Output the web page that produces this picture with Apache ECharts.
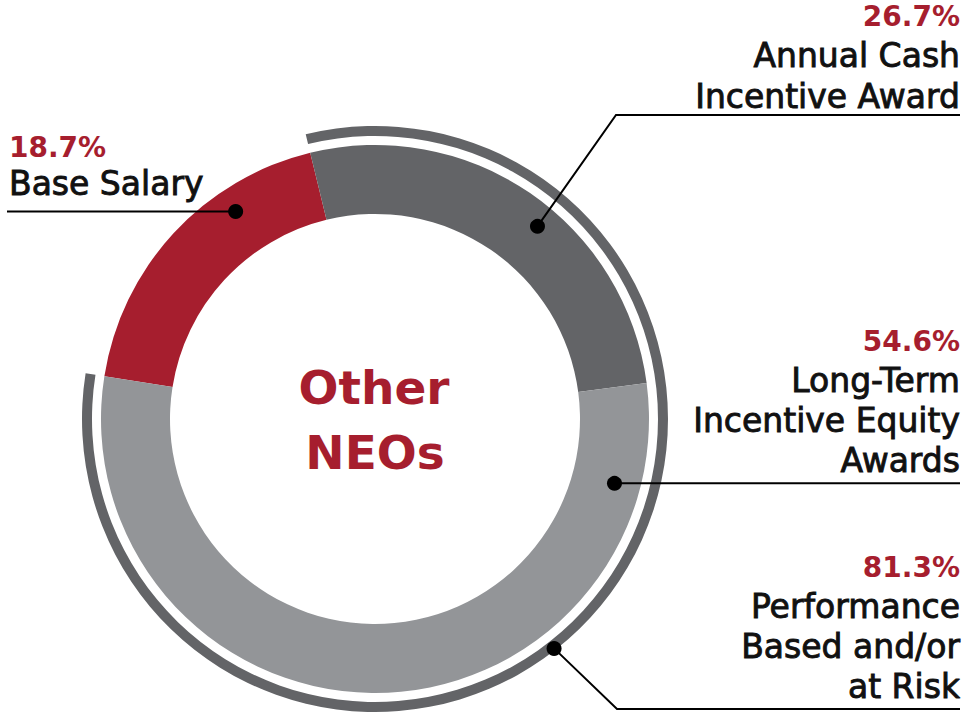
<!DOCTYPE html>
<html>
<head>
<meta charset="utf-8">
<script src="https://cdn.jsdelivr.net/npm/echarts@6/dist/echarts.min.js"></script>
<style>
html,body{margin:0;padding:0;background:#fff;}
#chart{width:979px;height:718px;}
</style>
</head>
<body>
<div id="chart"></div>
<script>
// ---- data ----
const categories = ['Base Salary', 'Annual Cash Incentive Award', 'Long-Term Incentive Equity Awards'];
const values = [18.7, 26.7, 54.6];
const atRiskName = 'Performance Based and/or at Risk';
const atRiskValue = 81.3;
const notAtRiskValue = 18.7;
const centerTitle = ['Other', 'NEOs'];
const labelLines = [
  ['Base Salary'],
  ['Annual Cash', 'Incentive Award'],
  ['Long-Term', 'Incentive Equity', 'Awards'],
  ['Performance', 'Based and/or', 'at Risk']
];
const labelValues = [18.7, 26.7, 54.6, 81.3];

// ---- style / layout ----
const colors = ['#A61E2E', '#636467', '#939598'];
const arcColor = '#636467';
const red = '#A61E2E';
const cx = 375, cy = 419;
const startAngle = 171;
const ringR = [205, 274];
const arcR = [283, 293];
const FONT = "'DejaVu Sans', sans-serif";

const chart = echarts.init(document.getElementById('chart'), null, {renderer: 'svg'});

function polar(r, deg) {
  const a = deg * Math.PI / 180;
  return [cx + r * Math.cos(a), cy - r * Math.sin(a)];
}
const total = values.reduce((a, b) => a + b, 0);
function angleAt(cumValue) { return startAngle - 360 * cumValue / total; }

// dot anchors: fraction inside each segment, radius
const cum = [0, values[0], values[0] + values[1]];
const dots = [
  polar(250, angleAt(cum[0] + 0.70 * values[0])),
  polar(252, angleAt(cum[1] + 0.56 * values[1])),
  polar(248, angleAt(cum[2] + 0.115 * values[2])),
  polar(291, angleAt(notAtRiskValue + 0.532 * atRiskValue))
];

const rightX = 960;
const blocks = [
  {x: 9, align: 'left', base: 158, step: 37, line: [[dots[0][0], dots[0][1]], [7, dots[0][1]]]},
  {x: rightX, align: 'right', base: 27, step: 40.5, line: [dots[1], [616, 115], [rightX, 115]]},
  {x: rightX, align: 'right', base: 352, step: 40, line: [dots[2], [rightX, dots[2][1]]]},
  {x: rightX, align: 'right', base: 578, step: 40, line: [dots[3], [617, 709], [rightX, 709]]}
];

const graphic = [];
blocks.forEach((b, i) => {
  const pfs = 28, fs = 33;
  graphic.push({
    type: 'text', x: b.x, y: b.base - 0.36 * pfs, z: 10,
    style: {text: labelValues[i].toFixed(1) + '%', font: 'bold ' + pfs + 'px ' + FONT,
      fill: red, align: b.align, verticalAlign: 'middle'}
  });
  labelLines[i].forEach((t, j) => {
    graphic.push({
      type: 'text', x: b.x, y: b.base + (j + 1) * b.step - 0.36 * fs, z: 10,
      style: {text: t, font: fs + 'px ' + FONT, fill: '#111',
        stroke: '#111', lineWidth: 0.9, align: b.align, verticalAlign: 'middle'}
    });
  });
  graphic.push({
    type: 'polyline', z: 10,
    shape: {points: b.line},
    style: {stroke: '#000', lineWidth: 2, fill: null}
  });
  graphic.push({
    type: 'circle', z: 11,
    shape: {cx: dots[i][0], cy: dots[i][1], r: 7.5},
    style: {fill: '#000'}
  });
});
// center title
graphic.push({
  type: 'text', x: cx - 1, y: 404 - 0.36 * 47, z: 10,
  style: {text: centerTitle[0], font: 'bold 47px ' + FONT, fill: red, align: 'center', verticalAlign: 'middle'}
});
graphic.push({
  type: 'text', x: cx, y: 469 - 0.36 * 47, z: 10,
  style: {text: centerTitle[1], font: 'bold 47px ' + FONT, fill: red, align: 'center', verticalAlign: 'middle'}
});

const option = {
  backgroundColor: '#fff',
  animation: false,
  series: [
    {
      type: 'pie', center: [cx, cy], radius: ringR, startAngle: startAngle,
      clockwise: true, silent: true, avoidLabelOverlap: false,
      label: {show: false}, labelLine: {show: false},
      itemStyle: {borderWidth: 0},
      data: categories.map((c, i) => ({name: c, value: values[i], itemStyle: {color: colors[i]}}))
    },
    {
      type: 'pie', center: [cx, cy], radius: arcR, startAngle: startAngle,
      clockwise: true, silent: true, avoidLabelOverlap: false,
      label: {show: false}, labelLine: {show: false},
      itemStyle: {borderWidth: 0},
      data: [
        {name: 'Not at risk', value: notAtRiskValue, itemStyle: {color: 'rgba(0,0,0,0)'}},
        {name: atRiskName, value: atRiskValue, itemStyle: {color: arcColor}}
      ]
    }
  ],
  graphic: graphic
};
chart.setOption(option);
</script>
</body>
</html>
